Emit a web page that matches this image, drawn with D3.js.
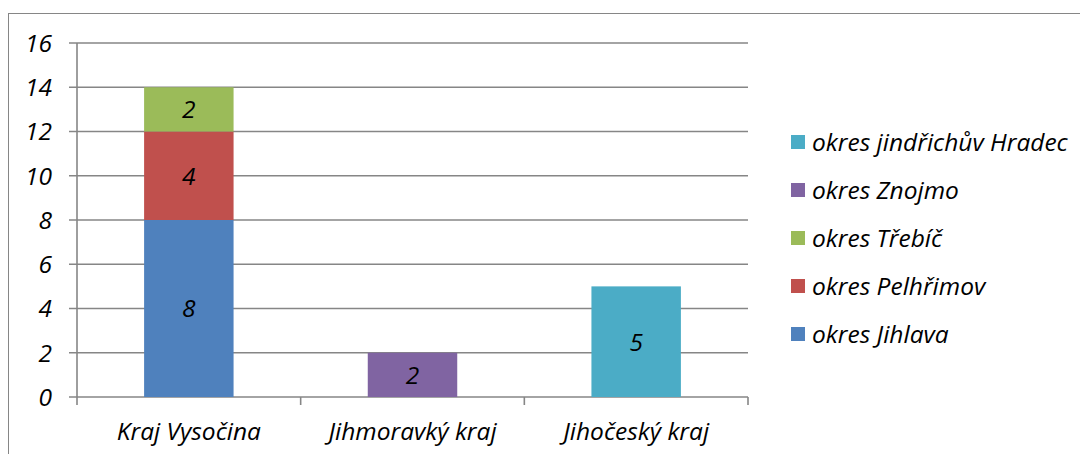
<!DOCTYPE html>
<html>
<head>
<meta charset="utf-8">
<script src="https://cdn.jsdelivr.net/npm/d3@7"></script>
<style>
  html, body { margin: 0; padding: 0; background: #fff; }
  svg text { font-family: "Open Sans", Lato, sans-serif; font-style: italic; fill: #000; }
</style>
</head>
<body>
<svg id="chart" width="1080" height="454"></svg>
<script>
// Regions on the x axis
const categories = ["Kraj Vysočina", "Jihmoravký kraj", "Jihočeský kraj"];

// Districts (stack order, bottom to top) and their counts per region
const seriesNames = ["okres Jihlava", "okres Pelhřimov", "okres Třebíč", "okres Znojmo", "okres jindřichův Hradec"];
const jihlava   = [8, 0, 0];
const pelhrimov = [4, 0, 0];
const trebic    = [2, 0, 0];
const znojmo    = [0, 2, 0];
const hradec    = [0, 0, 5];
const seriesColors = ["#4F81BD", "#C0504D", "#9BBB59", "#8064A2", "#4BACC6"];

const yTicks = [0, 2, 4, 6, 8, 10, 12, 14, 16];

const seriesValues = [jihlava, pelhrimov, trebic, znojmo, hradec];
const table = categories.map((c, i) => {
  const row = { category: c };
  seriesNames.forEach((s, j) => { row[s] = seriesValues[j][i]; });
  return row;
});

const svg = d3.select("#chart");
const gridColor = "#868686";
const fontSize = 24.5;

// Outer chart frame
svg.append("rect")
  .attr("x", 8.5).attr("y", 13.5)
  .attr("width", 1100).attr("height", 500)
  .attr("fill", "none").attr("stroke", gridColor).attr("stroke-width", 1);

const plot = { left: 77, right: 748, top: 43, bottom: 397 };

const x = d3.scaleBand().domain(categories).range([plot.left, plot.right]).paddingInner(0.6).paddingOuter(0.3);
const xEdges = d3.scaleBand().domain(categories).range([plot.left, plot.right]).padding(0);
const y = d3.scaleLinear().domain([0, 16]).range([plot.bottom, plot.top]);

// Horizontal gridlines with short ticks left of the axis
svg.append("g").selectAll("line").data(yTicks).join("line")
  .attr("x1", plot.left - 8).attr("x2", plot.right)
  .attr("y1", d => y(d)).attr("y2", d => y(d))
  .attr("stroke", gridColor).attr("stroke-width", 1.6);

// Vertical value axis line
svg.append("line")
  .attr("x1", plot.left).attr("x2", plot.left)
  .attr("y1", plot.top).attr("y2", plot.bottom + 8)
  .attr("stroke", gridColor).attr("stroke-width", 1.6);

// Category separators below the baseline
const edges = categories.map(c => xEdges(c)).concat([plot.right]);
svg.append("g").selectAll("line").data(edges.slice(1)).join("line")
  .attr("x1", d => d).attr("x2", d => d)
  .attr("y1", plot.bottom).attr("y2", plot.bottom + 8)
  .attr("stroke", gridColor).attr("stroke-width", 1.6);

// Y tick labels
svg.append("g").selectAll("text").data(yTicks).join("text")
  .attr("x", 52).attr("y", d => y(d))
  .attr("dy", "0.36em")
  .attr("text-anchor", "end")
  .attr("font-size", fontSize)
  .text(d => d);

// Category labels
svg.append("g").selectAll("text").data(categories).join("text")
  .attr("x", d => xEdges(d) + xEdges.bandwidth() / 2)
  .attr("y", 440)
  .attr("text-anchor", "middle")
  .attr("font-size", fontSize)
  .text(d => d);

// Stacked bars
const stack = d3.stack().keys(seriesNames)(table);
const layers = svg.append("g").selectAll("g").data(stack).join("g")
  .attr("fill", (d, i) => seriesColors[i]);

layers.selectAll("rect").data(d => d.filter(p => p[1] - p[0] > 0)).join("rect")
  .attr("x", d => x(d.data.category))
  .attr("width", x.bandwidth())
  .attr("y", d => y(d[1]))
  .attr("height", d => y(d[0]) - y(d[1]));

// Value labels centred in each segment
layers.selectAll("text").data(d => d.filter(p => p[1] - p[0] > 0)).join("text")
  .attr("x", d => x(d.data.category) + x.bandwidth() / 2)
  .attr("y", d => y((d[0] + d[1]) / 2))
  .attr("dy", "0.36em")
  .attr("text-anchor", "middle")
  .attr("font-size", fontSize)
  .text(d => d[1] - d[0]);

// Legend, listed top to bottom in reverse stack order
const legendOrder = seriesNames.map((s, i) => ({ name: s, color: seriesColors[i] })).reverse();
const legend = svg.append("g").selectAll("g").data(legendOrder).join("g")
  .attr("transform", (d, i) => `translate(791, ${142 + i * 48})`);
legend.append("rect")
  .attr("x", 0).attr("y", -7).attr("width", 14).attr("height", 14)
  .attr("fill", d => d.color);
legend.append("text")
  .attr("x", 21).attr("y", 0).attr("dy", "0.36em")
  .attr("font-size", fontSize)
  .text(d => d.name);
</script>
</body>
</html>
